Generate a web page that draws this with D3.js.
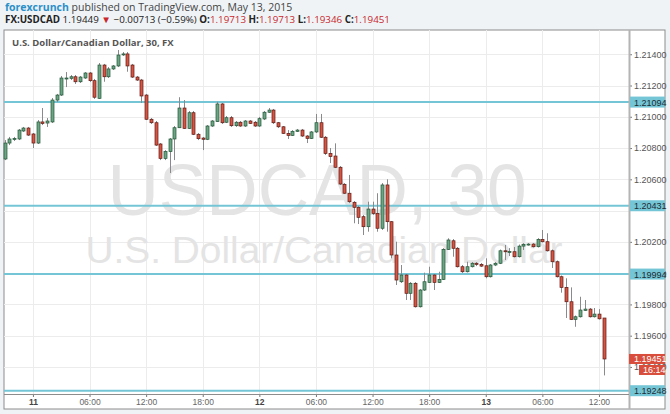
<!DOCTYPE html>
<html>
<head>
<meta charset="utf-8">
<script src="https://cdn.jsdelivr.net/npm/d3@7"></script>
<style>
  body { margin: 0; background: #eff3f6; }
  svg { display: block; font-family: "Liberation Sans", Arial, sans-serif; }
</style>
</head>
<body>
<svg id="chart"></svg>
<script>
// 30-minute USDCAD bars, first bar opens May 10 2015 21:00
var firstBar = new Date(2015, 4, 10, 21, 0);

var opens = [
  1.20730, 1.20832, 1.20855, 1.20858, 1.20909, 1.20928, 1.20890, 1.20832, 1.20967, 1.20960,
  1.20967, 1.21107, 1.21139, 1.21245, 1.21246, 1.21256, 1.21224, 1.21248, 1.21280, 1.21231,
  1.21118, 1.21331, 1.21256, 1.21306, 1.21325, 1.21398, 1.21402, 1.21331, 1.21254, 1.21235,
  1.21139, 1.20984, 1.20962, 1.20826, 1.20734, 1.20777, 1.20858, 1.20930, 1.21056, 1.20926,
  1.21026, 1.20888, 1.20864, 1.20856, 1.20941, 1.20969, 1.21082, 1.20965, 1.20994, 1.20943,
  1.20965, 1.20941, 1.20973, 1.20965, 1.20941, 1.20986, 1.21029, 1.21043, 1.20962, 1.20936,
  1.20894, 1.20881, 1.20907, 1.20915, 1.20877, 1.20862, 1.20903, 1.20962, 1.20869, 1.20766,
  1.20749, 1.20677, 1.20568, 1.20511, 1.20453, 1.20421, 1.20361, 1.20297, 1.20410, 1.20382,
  1.20287, 1.20564, 1.20329, 1.20116, 1.19945, 1.19988, 1.19871, 1.19935, 1.19785, 1.19892,
  1.19941, 1.19988, 1.19941, 1.19960, 1.20152, 1.20207, 1.20159, 1.20041, 1.20009, 1.20041,
  1.20063, 1.20056, 1.20047, 1.19977, 1.20052, 1.20063, 1.20143, 1.20137, 1.20137, 1.20105,
  1.20173, 1.20182, 1.20186, 1.20169, 1.20216, 1.20201, 1.20143, 1.20073, 1.19977, 1.19909,
  1.19817, 1.19704, 1.19721, 1.19762, 1.19770, 1.19721, 1.19738, 1.19713
];
var highs = [
  1.20851, 1.20871, 1.20871, 1.20922, 1.20935, 1.20935, 1.20896, 1.20979, 1.21056, 1.20992,
  1.21120, 1.21146, 1.21261, 1.21286, 1.21267, 1.21267, 1.21261, 1.21286, 1.21286, 1.21242,
  1.21344, 1.21338, 1.21318, 1.21331, 1.21427, 1.21414, 1.21414, 1.21338, 1.21261, 1.21242,
  1.21146, 1.20992, 1.20973, 1.20832, 1.20787, 1.20864, 1.20941, 1.21125, 1.21107, 1.21037,
  1.21037, 1.20896, 1.20871, 1.20947, 1.20979, 1.21096, 1.21088, 1.21005, 1.21005, 1.20973,
  1.20973, 1.20979, 1.20979, 1.20973, 1.20999, 1.21037, 1.21056, 1.21050, 1.20967, 1.20941,
  1.20915, 1.20915, 1.20922, 1.20922, 1.20883, 1.20909, 1.21018, 1.21018, 1.20877, 1.20800,
  1.20830, 1.20685, 1.20576, 1.20628, 1.20461, 1.20429, 1.20372, 1.20457, 1.20457, 1.20511,
  1.20576, 1.20600, 1.20333, 1.20201, 1.20052, 1.19994, 1.19943, 1.19943, 1.19898, 1.20003,
  1.20041, 1.19994, 1.20009, 1.20160, 1.20223, 1.20218, 1.20167, 1.20052, 1.20073, 1.20071,
  1.20071, 1.20065, 1.20095, 1.20058, 1.20071, 1.20151, 1.20180, 1.20160, 1.20167, 1.20183,
  1.20192, 1.20192, 1.20192, 1.20224, 1.20276, 1.20255, 1.20151, 1.20081, 1.19985, 1.19967,
  1.19909, 1.19729, 1.19849, 1.19828, 1.19777, 1.19777, 1.19770, 1.19713
];
var lows = [
  1.20723, 1.20819, 1.20845, 1.20851, 1.20903, 1.20877, 1.20800, 1.20826, 1.20947, 1.20935,
  1.20960, 1.21094, 1.21133, 1.21190, 1.21235, 1.21210, 1.21216, 1.21242, 1.21222, 1.21114,
  1.21114, 1.21224, 1.21248, 1.21299, 1.21318, 1.21389, 1.21288, 1.21248, 1.21229, 1.21088,
  1.20979, 1.20954, 1.20813, 1.20723, 1.20723, 1.20640, 1.20723, 1.20928, 1.20922, 1.20922,
  1.20883, 1.20851, 1.20787, 1.20851, 1.20935, 1.20967, 1.20954, 1.20960, 1.20935, 1.20935,
  1.20935, 1.20935, 1.20954, 1.20935, 1.20935, 1.20979, 1.21024, 1.20954, 1.20928, 1.20890,
  1.20858, 1.20877, 1.20903, 1.20871, 1.20832, 1.20858, 1.20896, 1.20864, 1.20756, 1.20704,
  1.20672, 1.20564, 1.20506, 1.20448, 1.20319, 1.20314, 1.20244, 1.20265, 1.20372, 1.20265,
  1.20276, 1.20265, 1.20095, 1.19924, 1.19937, 1.19828, 1.19828, 1.19780, 1.19780, 1.19886,
  1.19937, 1.19892, 1.19937, 1.19956, 1.20148, 1.20105, 1.20036, 1.20001, 1.20004, 1.20036,
  1.20045, 1.20039, 1.19967, 1.19972, 1.20045, 1.20058, 1.20084, 1.20109, 1.20100, 1.20100,
  1.20148, 1.20176, 1.20164, 1.20164, 1.20196, 1.20138, 1.20033, 1.19972, 1.19875, 1.19713,
  1.19700, 1.19657, 1.19716, 1.19758, 1.19716, 1.19716, 1.19703, 1.19346
];
var closes = [
  1.20832, 1.20858, 1.20861, 1.20915, 1.20928, 1.20883, 1.20832, 1.20967, 1.20957, 1.20973,
  1.21107, 1.21139, 1.21248, 1.21248, 1.21256, 1.21224, 1.21254, 1.21280, 1.21231, 1.21125,
  1.21331, 1.21256, 1.21306, 1.21325, 1.21395, 1.21402, 1.21325, 1.21254, 1.21235, 1.21133,
  1.20984, 1.20962, 1.20819, 1.20734, 1.20777, 1.20858, 1.20930, 1.21056, 1.20926, 1.21026,
  1.20888, 1.20860, 1.20856, 1.20941, 1.20973, 1.21082, 1.20962, 1.20994, 1.20943, 1.20965,
  1.20941, 1.20973, 1.20958, 1.20941, 1.20988, 1.21029, 1.21043, 1.20962, 1.20936, 1.20894,
  1.20881, 1.20907, 1.20915, 1.20877, 1.20862, 1.20903, 1.20962, 1.20869, 1.20766, 1.20745,
  1.20677, 1.20570, 1.20511, 1.20457, 1.20421, 1.20357, 1.20297, 1.20410, 1.20382, 1.20287,
  1.20564, 1.20329, 1.20116, 1.19956, 1.19988, 1.19871, 1.19935, 1.19785, 1.19892, 1.19945,
  1.19988, 1.19941, 1.19960, 1.20152, 1.20212, 1.20159, 1.20041, 1.20009, 1.20041, 1.20063,
  1.20056, 1.20045, 1.19977, 1.20052, 1.20063, 1.20143, 1.20137, 1.20138, 1.20105, 1.20173,
  1.20184, 1.20186, 1.20169, 1.20216, 1.20201, 1.20143, 1.20073, 1.19977, 1.19909, 1.19817,
  1.19704, 1.19721, 1.19764, 1.19770, 1.19721, 1.19738, 1.19708, 1.19451
];

// horizontal support / resistance lines
var levels = [1.21094, 1.20431, 1.19994, 1.19248];

var priceTicks = [1.194, 1.196, 1.198, 1.200, 1.202, 1.204, 1.206, 1.208, 1.210, 1.212, 1.214];
var timeTicks = [
  new Date(2015, 4, 11, 0), new Date(2015, 4, 11, 6), new Date(2015, 4, 11, 12), new Date(2015, 4, 11, 18),
  new Date(2015, 4, 12, 0), new Date(2015, 4, 12, 6), new Date(2015, 4, 12, 12), new Date(2015, 4, 12, 18),
  new Date(2015, 4, 13, 0), new Date(2015, 4, 13, 6), new Date(2015, 4, 13, 12)
];
var timeLabels = ["11", "06:00", "12:00", "18:00", "12", "06:00", "12:00", "18:00", "13", "06:00", "12:00"];
var dayTicks = ["11", "12", "13"];

var lastPrice = 1.19451;
var countdown = "16:14";

var W = 670, H = 414;
var plot = {left: 4, right: 629, top: 30, bottom: 394};
var frame = {left: 4, right: 665, top: 30, bottom: 409};

var svg = d3.select('#chart').attr('width', W).attr('height', H);

var bars = opens.map(function (o, i) {
    return {
        t: new Date(firstBar.getTime() + i * 30 * 60000),
        o: o, h: highs[i], l: lows[i], c: closes[i]
    };
});

var x = d3.scaleTime()
    .domain([new Date(2015, 4, 10, 20, 56), new Date(2015, 4, 13, 15, 11)])
    .range([plot.left, plot.right]);

var y = d3.scaleLinear()
    .domain([1.19227, 1.21555])
    .range([plot.bottom, plot.top]);

// chart frame
svg.append('rect')
    .attr('x', frame.left).attr('y', frame.top)
    .attr('width', frame.right - frame.left).attr('height', frame.bottom - frame.top)
    .attr('fill', '#fff').attr('stroke', '#8c8c8c').attr('stroke-width', 1);

// header
var head1 = svg.append('text').attr('x', 5).attr('y', 11)
    .style('font-family', '"Open Sans", sans-serif').style('font-size', '10.5px');
head1.append('tspan').attr('fill', '#2b8fc8').attr('font-weight', 'bold').text('forexcrunch');
head1.append('tspan').attr('fill', '#444').text(' published on TradingView.com, May 13, 2015');

var head2 = svg.append('text').attr('x', 5).attr('y', 23)
    .style('font-family', '"Open Sans", sans-serif').style('font-size', '9.8px').attr('fill', '#222');
head2.append('tspan').attr('font-weight', 'bold').text('FX:USDCAD');
head2.append('tspan').text(' 1.19449 ');
head2.append('tspan').attr('fill', '#c8262b').text('▼');
head2.append('tspan').text(' \u22120.00713 (\u22120.59%) ');
[['O:', '1.19713'], ['H:', '1.19713'], ['L:', '1.19346'], ['C:', '1.19451']].forEach(function (p, i) {
    head2.append('tspan').attr('font-weight', 'bold').text((i ? ' ' : '') + p[0]);
    head2.append('tspan').attr('fill', '#c8262b').text(p[1]);
});

// grid
var g = svg.append('g');
g.selectAll('.vgrid').data(timeTicks).enter().append('line')
    .attr('x1', function (d) { return Math.round(x(d)) + 0.5; })
    .attr('x2', function (d) { return Math.round(x(d)) + 0.5; })
    .attr('y1', plot.top).attr('y2', plot.bottom)
    .attr('stroke', '#ececec');
g.selectAll('.hgrid').data(priceTicks).enter().append('line')
    .attr('x1', plot.left).attr('x2', plot.right)
    .attr('y1', function (d) { return Math.round(y(d)) + 0.5; })
    .attr('y2', function (d) { return Math.round(y(d)) + 0.5; })
    .attr('stroke', '#ececec');

// watermark
svg.append('text')
    .attr('x', 317).attr('y', 215).attr('text-anchor', 'middle')
    .attr('textLength', 419).attr('lengthAdjust', 'spacingAndGlyphs')
    .style('font-size', '72px').attr('fill', '#e4e4e4')
    .text('USDCAD, 30');
svg.append('text')
    .attr('x', 324).attr('y', 263).attr('text-anchor', 'middle')
    .attr('textLength', 477).attr('lengthAdjust', 'spacingAndGlyphs')
    .style('font-size', '36px').attr('fill', '#e4e4e4')
    .text('U.S. Dollar/Canadian Dollar');

// chart title
svg.append('text').attr('x', 12).attr('y', 46)
    .style('font-family', '"Open Sans", sans-serif').style('font-size', '9.5px')
    .attr('font-weight', 'bold').attr('fill', '#555')
    .text('U.S. Dollar/Canadian Dollar, 30, FX');

// level lines
svg.selectAll('.level').data(levels).enter().append('line')
    .attr('x1', plot.left).attr('x2', plot.right)
    .attr('y1', function (d) { return y(d); })
    .attr('y2', function (d) { return y(d); })
    .attr('stroke', '#74c6d6').attr('stroke-width', 2);

// candles
var candle = svg.append('g').selectAll('g').data(bars).enter().append('g');
candle.append('line')
    .attr('x1', function (d) { return Math.round(x(d.t)) + 0.5; })
    .attr('x2', function (d) { return Math.round(x(d.t)) + 0.5; })
    .attr('y1', function (d) { return y(d.h); })
    .attr('y2', function (d) { return y(d.l); })
    .attr('stroke', '#8a8a8c').attr('stroke-width', 1);
candle.append('rect')
    .attr('x', function (d) { return Math.round(x(d.t)) - 1; })
    .attr('y', function (d) { return y(Math.max(d.o, d.c)); })
    .attr('width', 3)
    .attr('height', function (d) { return Math.max(1, Math.abs(y(d.o) - y(d.c))); })
    .attr('fill', function (d) { return d.c >= d.o ? '#6ba583' : '#d75442'; })
    .attr('stroke', function (d) { return d.c >= d.o ? '#225437' : '#5b1a13'; })
    .attr('stroke-width', 0.7);

// price axis (ticks hidden under the level boxes are left out)
var visibleTicks = priceTicks.filter(function (d) { return d !== 1.204; });
var yAxis = svg.append('g')
    .attr('transform', 'translate(' + plot.right + ',0)')
    .call(d3.axisRight(y).tickValues(visibleTicks).tickSize(3).tickPadding(2).tickFormat(d3.format('.5f')));
yAxis.select('.domain').remove();
yAxis.selectAll('.tick line').attr('stroke', '#777');
yAxis.selectAll('.tick text').attr('fill', '#555')
    .style('font-family', '"Liberation Sans", Arial, sans-serif').style('font-size', '9px');

svg.append('line')
    .attr('x1', plot.right + 0.5).attr('x2', plot.right + 0.5)
    .attr('y1', frame.top).attr('y2', frame.bottom)
    .attr('stroke', '#b4b4b4').attr('stroke-width', 2);

// time axis
var xAxis = svg.append('g')
    .attr('transform', 'translate(0,' + plot.bottom + ')')
    .call(d3.axisBottom(x).tickValues(timeTicks).tickSize(3).tickPadding(2)
        .tickFormat(function (d, i) { return timeLabels[i]; }));
xAxis.select('.domain').remove();
xAxis.selectAll('.tick line').attr('stroke', '#777');
xAxis.selectAll('.tick text')
    .attr('fill', function (d, i) { return dayTicks.indexOf(timeLabels[i]) >= 0 ? '#444' : '#666'; })
    .attr('font-weight', function (d, i) { return dayTicks.indexOf(timeLabels[i]) >= 0 ? 'bold' : 'normal'; })
    .style('font-family', '"Liberation Sans", Arial, sans-serif').style('font-size', '8.5px');

svg.append('line')
    .attr('x1', plot.left).attr('x2', plot.right)
    .attr('y1', plot.bottom + 0.5).attr('y2', plot.bottom + 0.5)
    .attr('stroke', '#8c8c8c').attr('stroke-width', 1);

// level labels on the price axis
var lvl = svg.selectAll('.lvlLabel').data(levels).enter().append('g')
    .attr('transform', function (d) { return 'translate(' + plot.right + ',' + y(d) + ')'; });
lvl.append('rect').attr('x', 1).attr('y', -5.5).attr('width', 35).attr('height', 11).attr('fill', '#74c6d6');
lvl.append('text').attr('x', 5).attr('y', 3.5).attr('fill', '#1d2b33')
    .style('font-size', '9px').text(function (d) { return d3.format('.5f')(d); });

// last price and countdown
var lp = svg.append('g').attr('transform', 'translate(' + plot.right + ',' + y(lastPrice) + ')');
lp.append('rect').attr('x', 0).attr('y', -5).attr('width', 36).attr('height', 10).attr('fill', '#d84d3b');
lp.append('text').attr('x', 5).attr('y', 3.5).attr('fill', '#fff')
    .style('font-size', '9px').text(d3.format('.5f')(lastPrice));
lp.append('rect').attr('x', 10).attr('y', 6).attr('width', 26).attr('height', 10).attr('fill', '#d84d3b');
lp.append('text').attr('x', 14).attr('y', 14.5).attr('fill', '#fff')
    .style('font-size', '9px').text(countdown);
</script>
</body>
</html>
